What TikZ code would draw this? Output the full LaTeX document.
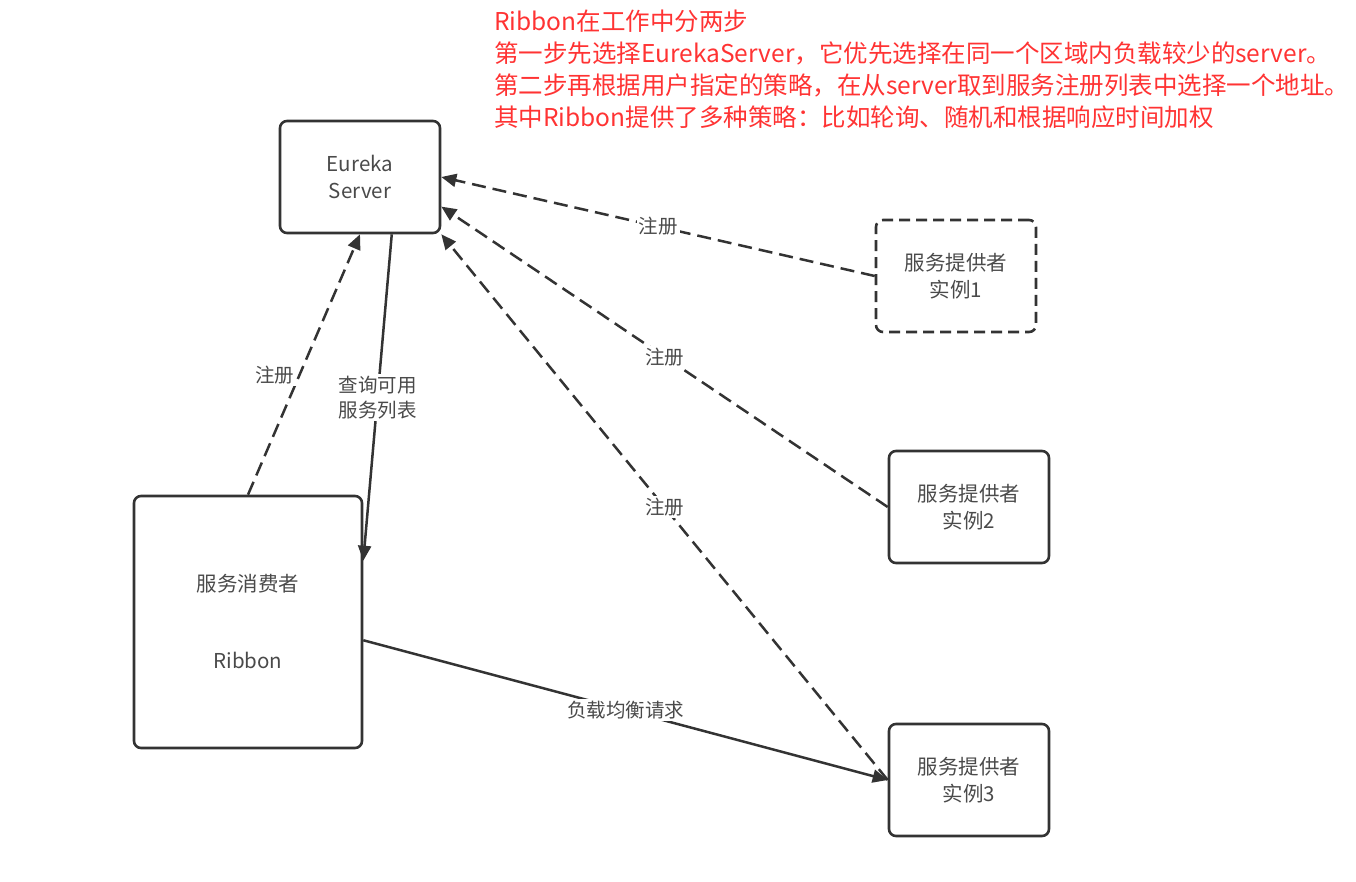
\documentclass[tikz,border=0pt]{standalone}
\usepackage{fontspec}
\setmainfont{Noto Sans CJK SC}
\usetikzlibrary{calc, positioning}
\usetikzlibrary{arrows.meta}

\definecolor{lineGray}{HTML}{333333}
\definecolor{textGray}{HTML}{4A4A4A}
\definecolor{noteRed}{HTML}{FF3333}

\begin{document}
\begin{tikzpicture}[x=1pt, y=-1pt,
  box/.style={draw=lineGray, line width=2.6pt, rounded corners=7pt,
    minimum width=160pt, minimum height=112pt, align=center,
    text=textGray, font=\fontsize{20.5}{27}\selectfont},
  dashbox/.style={dash pattern=on 11pt off 6pt},
  reg/.style={draw=lineGray, line width=2.5pt, dash pattern=on 14pt off 7pt,
    -{Triangle[length=15pt, width=13pt]}},
  req/.style={draw=lineGray, line width=2.5pt,
    -{Triangle[length=15pt, width=13pt]}},
  lbl/.style={fill=white, text=textGray, align=center, inner sep=2pt,
    font=\fontsize{19.5}{25}\selectfont},
  note/.style={text=noteRed, align=left, inner sep=0pt,
    font=\fontsize{24.5}{32}\selectfont}]

\useasboundingbox (0,0) rectangle (1356,881);

% boxes
\node[box] (eureka) at (360,177) {Eureka\\Server};
\node[box, dashbox] (prov1) at (956,276) {服务提供者\\实例1};
\node[box] (prov2) at (969,507) {服务提供者\\实例2};
\node[box] (prov3) at (969,780) {服务提供者\\实例3};
\node[box, minimum width=228pt, minimum height=252pt] (consumer) at (248,622)
  {服务消费者\\[50pt]Ribbon};

% note at the top
\node[note, anchor=north west] (steps) at (494,10)
  {Ribbon在工作中分两步\\
   第一步先选择EurekaServer，它优先选择在同一个区域内负载较少的server。\\
   第二步再根据用户指定的策略，在从server取到服务注册列表中选择一个地址。\\
   其中Ribbon提供了多种策略：比如轮询、随机和根据响应时间加权};

% registration
\draw[reg] (prov1.west) -- node[lbl] {注册} (eureka.east);
\draw[reg] (prov2.west) -- node[lbl] {注册} (eureka.-20);
\draw[reg] (prov3.west) -- node[lbl] {注册} (eureka.south east);
\draw[reg] (consumer.north) -- node[lbl, pos=0.46, left=2pt] {注册} (eureka.south);

% lookup and requests
\draw[req] (eureka.-61) -- node[lbl] {查询可用\\服务列表} (consumer.28.5);
\draw[req] (consumer.-9) -- node[lbl] {负载均衡请求} (prov3.west);
\end{tikzpicture}
\end{document}
